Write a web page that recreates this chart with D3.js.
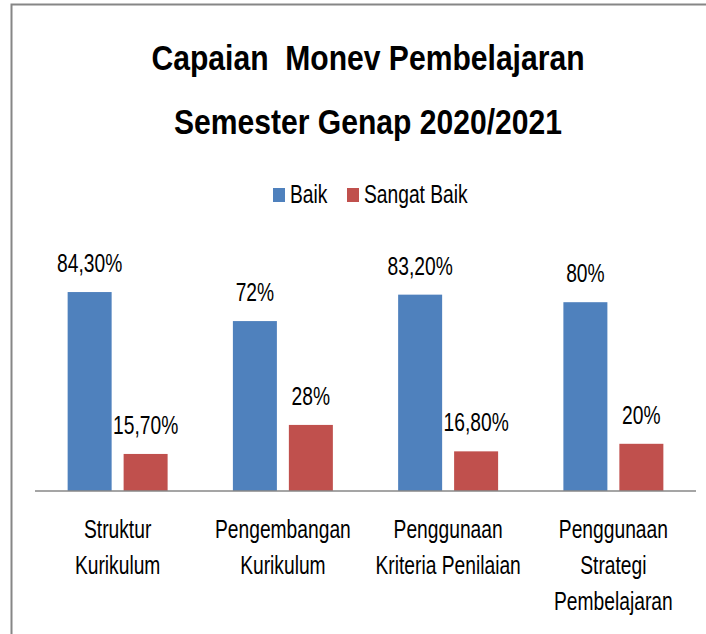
<!DOCTYPE html>
<meta charset="utf-8">

<style type="text/css">
	body {
		margin: 0;
		background: #fff;
	}
	svg text {
		font-family: "Liberation Sans", Arial, sans-serif;
		fill: #000;
		white-space: pre;
	}
	.title {
		font-size: 35px;
		font-weight: bold;
	}
	.label, .legend text, .cat {
		font-size: 26px;
	}
	.frame {
		fill: none;
		stroke: #868686;
		stroke-width: 2px;
	}
	.baseline {
		stroke: #878787;
		stroke-width: 1.5px;
	}
</style>

<body>
</body>

<script src="https://d3js.org/d3.v7.min.js"></script>

<script>

	// data
	var categories = [
		["Struktur", "Kurikulum"],
		["Pengembangan", "Kurikulum"],
		["Penggunaan", "Kriteria Penilaian"],
		["Penggunaan", "Strategi", "Pembelajaran"]
	];
	var series = ["Baik", "Sangat Baik"];
	var baik = [84.3, 72, 83.2, 80];
	var sangatBaik = [15.7, 28, 16.8, 20];
	var colors = ["#4f81bd", "#c0504d"];
	var titleLines = ["Capaian  Monev Pembelajaran", "Semester Genap 2020/2021"];

	var width = 706, height = 634;
	// the text in the picture is narrow
	var squeeze = 0.74, titleSqueeze = 0.86;

	// indonesian style: 84,30%
	var idLocale = d3.formatLocale({decimal: ",", thousands: ".", grouping: [3], currency: ["Rp", ""]});
	function pct(v) {
		return (v % 1 === 0 ? idLocale.format(".0f")(v) : idLocale.format(".2f")(v)) + "%";
	}

	function at(x, y, s) {
		return "translate(" + x + "," + y + ") scale(" + (s || squeeze) + ",1)";
	}

	var svg = d3.select("body").append("svg")
		.attr("width", width)
		.attr("height", height);

	// chart frame (only top and left edges show)
	svg.append("path")
		.attr("class", "frame")
		.attr("d", "M11.5," + height + "V4.5H" + width);

	svg.selectAll(".title")
		.data(titleLines)
		.enter()
		.append("text")
		.attr("class", "title")
		.attr("text-anchor", "middle")
		.attr("transform", function(d, i) { return at(368, 70 + i * 64, titleSqueeze); })
		.text(function(d) { return d; });

	// legend
	var legendX = [273, 347];
	var legend = svg.selectAll(".legend")
		.data(series)
		.enter()
		.append("g")
		.attr("class", "legend")
		.attr("transform", function(d, i) { return "translate(" + legendX[i] + ",188)"; });

	legend.append("rect")
		.attr("width", 12)
		.attr("height", 14)
		.attr("fill", function(d, i) { return colors[i]; });

	legend.append("text")
		.attr("transform", at(17, 15))
		.text(function(d) { return d; });

	var x0 = d3.scaleBand()
		.domain(d3.range(categories.length))
		.range([35, 696]);

	var x1 = d3.scaleBand()
		.domain(series)
		.range([0, x0.bandwidth()])
		.paddingInner(0.214)
		.paddingOuter(0.583);

	var y = d3.scaleLinear()
		.domain([0, 100])
		.range([491, 255]);

	var rows = categories.map(function(c, i) {
		return {cat: c, values: [
			{key: series[0], value: baik[i], color: colors[0]},
			{key: series[1], value: sangatBaik[i], color: colors[1]}
		]};
	});

	var group = svg.selectAll(".group")
		.data(rows)
		.enter()
		.append("g")
		.attr("class", "group")
		.attr("transform", function(d, i) { return "translate(" + x0(i) + ",0)"; });

	group.selectAll("rect")
		.data(function(d) { return d.values; })
		.enter()
		.append("rect")
		.attr("x", function(d) { return x1(d.key); })
		.attr("y", function(d) { return y(d.value); })
		.attr("width", x1.bandwidth())
		.attr("height", function(d) { return y(0) - y(d.value); })
		.attr("fill", function(d) { return d.color; });

	group.selectAll(".label")
		.data(function(d) { return d.values; })
		.enter()
		.append("text")
		.attr("class", "label")
		.attr("text-anchor", "middle")
		.attr("transform", function(d) { return at(x1(d.key) + x1.bandwidth() / 2, y(d.value) - 20); })
		.text(function(d) { return pct(d.value); });

	// category axis
	svg.append("line")
		.attr("class", "baseline")
		.attr("x1", 35)
		.attr("x2", 696)
		.attr("y1", y(0))
		.attr("y2", y(0));

	group.selectAll(".cat")
		.data(function(d) { return d.cat; })
		.enter()
		.append("text")
		.attr("class", "cat")
		.attr("text-anchor", "middle")
		.attr("transform", function(d, i) { return at(x0.bandwidth() / 2, 538 + i * 36); })
		.text(function(d) { return d; });

</script>
